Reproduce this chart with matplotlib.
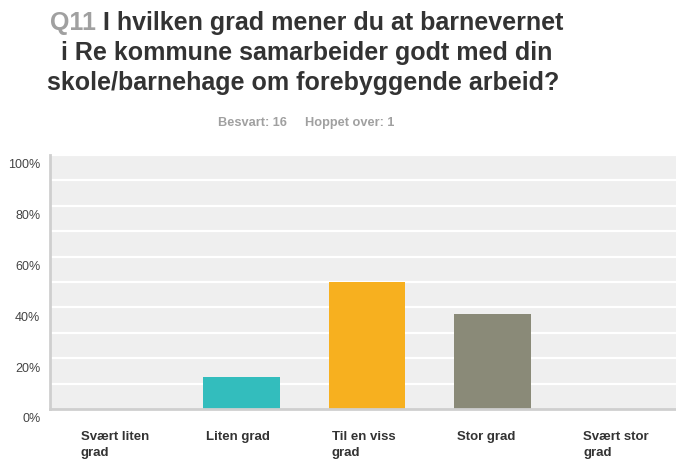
"""
Bar chart of survey answers (Q11) with percentage axis.
"""
import matplotlib
matplotlib.use("Agg")
import matplotlib.transforms as mtransforms
from matplotlib import pyplot as plt

categories = ["Svært liten\ngrad", "Liten grad", "Til en viss\ngrad",
              "Stor grad", "Svært stor\ngrad"]
shares = [0.0, 12.5, 50.0, 37.5, 0.0]
bar_colors = ["#33bdbd", "#33bdbd", "#f7b01f", "#8a8a78", "#33bdbd"]
y_ticks = [0, 20, 40, 60, 80, 100]
y_ticklabels = ["0%", "20%", "40%", "60%", "80%", "100%"]

plt.rcParams["font.family"] = ["Liberation Sans", "DejaVu Sans"]

fig = plt.figure(figsize=(6.76, 4.59), dpi=100)
ax = fig.add_axes([50 / 676, 1 - 409 / 459, 626 / 676, 254 / 459])
ax.set_facecolor("#efefef")

# grid lines every 10%
for v in range(10, 101, 10):
    ax.axhline(v, color="white", linewidth=1.6, zorder=1)

ax.bar(range(len(categories)), shares, width=0.61, color=bar_colors, zorder=2)

ax.set_xlim(-0.524, 4.46)
ax.set_ylim(0, 100)

for side in ("top", "right"):
    ax.spines[side].set_visible(False)
for side in ("left", "bottom"):
    ax.spines[side].set_color("#cfcfcf")
    ax.spines[side].set_linewidth(2)

ax.set_yticks(y_ticks)
ax.set_yticklabels(y_ticklabels, fontsize=9, color="#444444")
ax.tick_params(axis="y", length=0, pad=7)
offset = mtransforms.ScaledTranslation(0, -9 / 100, fig.dpi_scale_trans)
for lbl in ax.get_yticklabels():
    lbl.set_transform(lbl.get_transform() + offset)

ax.set_xticks([])
for i, cat in enumerate(categories):
    ax.text(i - 0.28, -0.085, cat, transform=ax.get_xaxis_transform(),
            ha="left", va="top", fontsize=9.5, fontweight="bold",
            color="#333333", linespacing=1.45)

# title, with the question number in grey
title_size = 18
title_lines = ["I hvilken grad mener du at barnevernet",
               "i Re kommune samarbeider godt med din",
               "skole/barnehage om forebyggende arbeid?"]
probe = fig.text(0, 0, "Q11 " + title_lines[0], fontsize=title_size,
                 fontweight="bold")
fig.canvas.draw()
full_w = probe.get_window_extent().width
probe.remove()
x_start = 307 - full_w / 2
q = fig.text(x_start / 676, 1 - 23 / 459, "Q11 ", ha="left", va="center",
             fontsize=title_size, fontweight="bold", color="#a0a0a0")
fig.canvas.draw()
bb = q.get_window_extent()
fig.text(bb.x1 / 676, 1 - 23 / 459, title_lines[0], ha="left", va="center",
         fontsize=title_size, fontweight="bold", color="#333333")
fig.text(307 / 676, 1 - 53 / 459, title_lines[1], ha="center", va="center",
         fontsize=title_size, fontweight="bold", color="#333333")
fig.text(303 / 676, 1 - 83 / 459, title_lines[2], ha="center", va="center",
         fontsize=title_size, fontweight="bold", color="#333333")

fig.text(218 / 676, 1 - 123 / 459, "Besvart: 16", ha="left", va="center",
         fontsize=9.2, fontweight="bold", color="#a0a0a0")
fig.text(305 / 676, 1 - 123 / 459, "Hoppet over: 1", ha="left", va="center",
         fontsize=9.2, fontweight="bold", color="#a0a0a0")

fig.savefig("out.png", dpi=100, facecolor="white")
